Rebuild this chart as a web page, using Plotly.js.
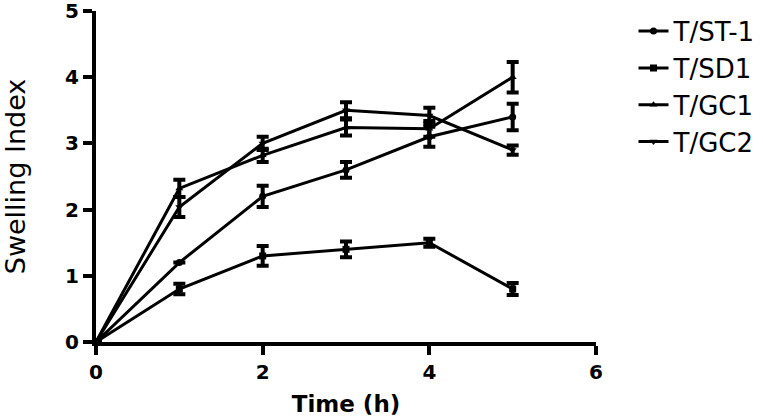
<!DOCTYPE html>
<html><head><meta charset="utf-8">
<script src="https://cdn.plot.ly/plotly-3.0.1.min.js"></script>
<style>html,body{margin:0;padding:0;background:#fff}</style>
</head><body><div id="chart" style="width:763px;height:420px"></div>
<script>
const timeH = [0, 1, 2, 3, 4, 5];
const seriesNames = ['T/ST-1', 'T/SD1', 'T/GC1', 'T/GC2'];
const stY = [0, 1.2, 2.2, 2.6, 3.1, 3.4];
const stErr = [0, 0, 0.16, 0.12, 0.15, 0.2];
const sdY = [0, 0.8, 1.3, 1.4, 1.5, 0.8];
const sdErr = [0, 0.08, 0.15, 0.12, 0.06, 0.09];
const gc1Y = [0, 2.32, 2.82, 3.24, 3.22, 4.0];
const gc1Err = [0, 0.13, 0.1, 0.12, 0.12, 0.23];
const gc2Y = [0, 2.04, 3.0, 3.5, 3.42, 2.9];
const gc2Err = [0, 0.15, 0.1, 0.12, 0.12, 0.07];
const xTicks = [0, 2, 4, 6];
const yTicks = [0, 1, 2, 3, 4, 5];

const ys = [stY, sdY, gc1Y, gc2Y];
const errs = [stErr, sdErr, gc1Err, gc2Err];
const symbols = ['circle', 'square', 'triangle-up', 'triangle-down'];

const traces = seriesNames.map((name, i) => ({
  type: 'scatter', mode: 'lines+markers', name: name,
  x: timeH, y: ys[i],
  line: {color: '#000', width: 3},
  marker: {color: '#000', size: 7, symbol: symbols[i]},
  error_y: {type: 'data', array: errs[i], visible: true, color: '#000', thickness: 4, width: 6}
}));

const axisCommon = {
  showgrid: false, zeroline: false, showline: true, linewidth: 4, linecolor: '#000',
  ticks: 'outside', ticklen: 9, tickwidth: 4, tickcolor: '#000',
  ticklabeloverflow: 'allow',
  tickfont: {family: 'DejaVu Sans', size: 20, color: '#000', weight: 'bold'}
};

const layout = {
  width: 763, height: 420,
  margin: {l: 96, r: 167, t: 11, b: 78, autoexpand: false},
  paper_bgcolor: '#fff', plot_bgcolor: '#fff',
  showlegend: true,
  legend: {x: 1.075, y: 1.01, xanchor: 'left', yanchor: 'top',
    font: {family: 'DejaVu Sans', size: 26, color: '#000'}, bgcolor: 'rgba(0,0,0,0)'},
  xaxis: Object.assign({}, axisCommon, {
    range: [0, 6], tickvals: xTicks, ticktext: xTicks.map(String),
    title: {text: 'Time (h)', font: {family: 'DejaVu Sans', size: 23, color: '#000', weight: 'bold'}, standoff: 14}
  }),
  yaxis: Object.assign({}, axisCommon, {
    range: [0, 5], tickvals: yTicks, ticktext: yTicks.map(String),
    title: {text: 'Swelling Index', font: {family: 'DejaVu Sans', size: 27, color: '#000'}, standoff: 36}
  })
};

Plotly.newPlot('chart', traces, layout, {displayModeBar: false, staticPlot: true});
</script>
</body></html>
